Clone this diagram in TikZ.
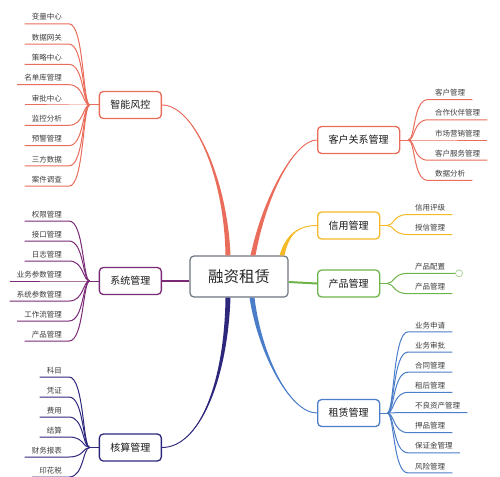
\documentclass[tikz,border=0pt]{standalone}
\usepackage{fontspec}
\setmainfont{Noto Sans CJK SC}
\usepackage{xcolor}
\definecolor{riskcolor}{RGB}{234,108,90}
\definecolor{syscolor}{RGB}{122,42,118}
\definecolor{acccolor}{RGB}{46,40,125}
\definecolor{creditcolor}{RGB}{245,185,40}
\definecolor{prodcolor}{RGB}{110,180,75}
\definecolor{leasecolor}{RGB}{75,125,200}
\definecolor{hubcolor}{RGB}{110,118,128}
\definecolor{leaftext}{RGB}{60,60,60}

% tapered main branch: colour, shift key, start, control 1, control 2, end
\newcommand{\mainbranch}[6]{%
  \fill[#1] ([#2=-2.5pt]#3) .. controls ([#2=-1.5pt]#4) and (#5) .. (#6)
    .. controls (#5) and ([#2=1.5pt]#4) .. ([#2=2.5pt]#3) -- cycle;
  \draw[#1, line width=0.9pt] (#3) .. controls (#4) and (#5) .. (#6);
}

\begin{document}
\begin{tikzpicture}[x=1pt, y=-1pt,
    hubbox/.style={draw=hubcolor, fill=white, rounded corners=4pt, line width=1.2pt,
      minimum width=98pt, minimum height=41pt, font=\fontsize{15.5}{18}\selectfont, text=black!85},
    topic/.style={draw, fill=white, rounded corners=4pt, line width=1.3pt,
      font=\fontsize{10}{12}\selectfont, text=black!90, inner xsep=11pt, minimum height=27pt},
    leaf/.style={font=\fontsize{7.5}{9}\selectfont, text=leaftext, inner xsep=7pt, inner ysep=3pt},
    leafL/.style={leaf, anchor=south east},
    leafR/.style={leaf, anchor=south west},
    twig/.style={line width=1pt},
    fold/.style={circle, draw=prodcolor!70, fill=white, line width=0.6pt, minimum size=7pt, inner sep=0pt}]
\useasboundingbox (0,0) rectangle (500,476);
\clip (0,0) rectangle (500,476);

% Centre
\node[hubbox] (hub) at (239,276.5) {融资租赁};

% Main topics
\node[topic, draw=riskcolor, anchor=east] (risk) at (162,105) {智能风控};
\node[topic, draw=syscolor, anchor=east] (sys) at (162,281) {系统管理};
\node[topic, draw=acccolor, anchor=east] (acc) at (162,447.5) {核算管理};
\node[topic, draw=riskcolor, anchor=west] (crm) at (317,140) {客户关系管理};
\node[topic, draw=creditcolor, anchor=west] (credit) at (317,225.5) {信用管理};
\node[topic, draw=prodcolor, anchor=west] (prod) at (317,283.5) {产品管理};
\node[topic, draw=leasecolor, anchor=west] (lease) at (317,413) {租赁管理};

% Main branches
\coordinate (h1) at ([xshift=-11pt]hub.north);
\coordinate (h2) at ([xshift=14pt]hub.north);
\coordinate (h3) at ([xshift=43pt]hub.north);
\coordinate (h4) at ([yshift=-4.5pt]hub.west);
\coordinate (h5) at ([yshift=-5.5pt]hub.east);
\coordinate (h6) at ([xshift=-11pt]hub.south);
\coordinate (h7) at ([xshift=13pt]hub.south);
\mainbranch{riskcolor}{xshift}{h1}{226,180}{195,105}{risk.east}
\mainbranch{riskcolor}{xshift}{h2}{265,195}{295,140}{crm.west}
\mainbranch{creditcolor}{xshift}{h3}{288,232}{300,225.5}{credit.west}
\draw[syscolor, line width=2pt] (h4) -- (sys.east);
\draw[prodcolor, line width=2pt] (h5) -- (prod.west);
\mainbranch{acccolor}{xshift}{h6}{226,380}{200,447.5}{acc.east}
\mainbranch{leasecolor}{xshift}{h7}{260,355}{290,413}{lease.west}

% Bundles
\coordinate (riskb) at ([xshift=-9pt]risk.west);
\coordinate (sysb) at ([xshift=-9pt]sys.west);
\coordinate (accb) at ([xshift=-9pt]acc.west);
\coordinate (crmb) at ([xshift=8pt]crm.east);
\coordinate (creditb) at ([xshift=7pt]credit.east);
\coordinate (prodb) at ([xshift=7pt]prod.east);
\coordinate (leaseb) at ([xshift=7pt]lease.east);

% Left leaves
\foreach \t [count=\i] in {变量中心,数据网关,策略中心,名单库管理,审批中心,监控分析,预警管理,三方数据,案件调查} {
  \node[leafL] (risk\i) at (69,{105+20.3*(\i-5)}) {\t};
  \draw[riskcolor, twig] (risk\i.south west) -- (risk\i.south east)
    .. controls +(15,0) and +(-7,0) .. (riskb);
}
\draw[riskcolor, twig] (riskb) -- (risk.west);

\foreach \t [count=\i] in {权限管理,接口管理,日志管理,业务参数管理,系统参数管理,工作流管理,产品管理} {
  \node[leafL] (sys\i) at (69,{281+20*(\i-4)}) {\t};
  \draw[syscolor, twig] (sys\i.south west) -- (sys\i.south east)
    .. controls +(15,0) and +(-7,0) .. (sysb);
}
\draw[syscolor, twig] (sysb) -- (sys.west);

\foreach \t [count=\i] in {科目,凭证,费用,结算,财务报表,印花税} {
  \node[leafL] (acc\i) at (69,{377+20*(\i-1)}) {\t};
  \draw[acccolor, twig] (acc\i.south west) -- (acc\i.south east)
    .. controls +(15,0) and +(-7,0) .. (accb);
}
\draw[acccolor, twig] (accb) -- (acc.west);

% Right leaves
\foreach \t [count=\i] in {客户管理,合作伙伴管理,市场营销管理,客户服务管理,数据分析} {
  \node[leafR] (crm\i) at (428,{140+20.2*(\i-3)}) {\t};
  \draw[riskcolor, twig] (crmb) .. controls +(7,0) and +(-15,0) .. (crm\i.south west)
    -- (crm\i.south east);
}
\draw[riskcolor, twig] (crm.east) -- (crmb);

\foreach \t [count=\i] in {信用评级,授信管理} {
  \node[leafR] (credit\i) at (408,{224.5+10*(2*\i-3)}) {\t};
  \draw[creditcolor, twig] (creditb) .. controls +(7,0) and +(-15,0) .. (credit\i.south west)
    -- (credit\i.south east);
}
\draw[creditcolor, twig] (credit.east) -- (creditb);

\node[leafR] (prod1) at (408,273.3) {产品配置};
\node[leafR] (prod2) at (408,293.7) {产品管理};
\node[fold] (fold) at (459,273.3) {};
\draw[prodcolor, twig] (prodb) .. controls +(7,0) and +(-15,0) .. (prod1.south west) -- (fold.west);
\draw[prodcolor, twig] (prodb) .. controls +(7,0) and +(-15,0) .. (prod2.south west) -- (prod2.south east);
\draw[prodcolor, twig] (prod.east) -- (prodb);

\foreach \t [count=\i] in {业务申请,业务审批,合同管理,租后管理,不良资产管理,押品管理,保证金管理,风险管理} {
  \node[leafR] (lease\i) at (408,{412.5+20.15*(\i-5)}) {\t};
  \draw[leasecolor, twig] (leaseb) .. controls +(7,0) and +(-15,0) .. (lease\i.south west)
    -- (lease\i.south east);
}
\draw[leasecolor, twig] (lease.east) -- (leaseb);
\end{tikzpicture}
\end{document}
